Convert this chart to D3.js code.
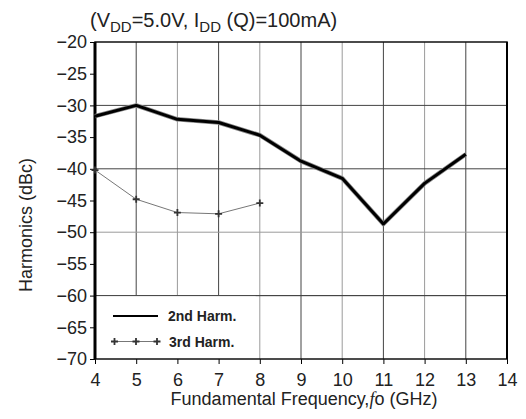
<!DOCTYPE html>
<html>
<head>
<meta charset="utf-8">
<script src="https://cdn.jsdelivr.net/npm/d3@7"></script>
<style>
  body { margin: 0; background: #fff; }
  text { font-family: "Liberation Sans", Arial, sans-serif; fill: #222; }
</style>
</head>
<body>
<div id="chart"></div>
<script>
const freqs = [4, 5, 6, 7, 8, 9, 10, 11, 12, 13]
const harm2 = [-31.7, -30, -32.2, -32.7, -34.7, -38.8, -41.5, -48.7, -42.3, -37.7]
const freqs3 = [4, 5, 6, 7, 8]
const harm3 = [-40.2, -44.8, -46.9, -47.1, -45.4]
const xTicks = [4, 5, 6, 7, 8, 9, 10, 11, 12, 13, 14]
const yTicks = [-20, -25, -30, -35, -40, -45, -50, -55, -60, -65, -70]
const yGrid = [-30, -40, -50, -60]

const margin = { top: 42, right: 19, bottom: 60, left: 95 }
const width = 526 - margin.left - margin.right
const height = 419 - margin.top - margin.bottom

const svg = d3.select("#chart")
              .append("svg")
              .attr("width", 526)
              .attr("height", 419)

const g = svg.append("g")
             .attr("transform", "translate(" + margin.left + "," + margin.top + ")")

const x = d3.scaleLinear().domain([4, 14]).range([0, width])
const y = d3.scaleLinear().domain([-70, -20]).range([height, 0])

// grid
g.selectAll(".vgrid")
 .data(xTicks.slice(1, -1))
 .enter().append("line")
 .attr("x1", d => x(d)).attr("x2", d => x(d))
 .attr("y1", 0).attr("y2", height)
 .attr("stroke", (d, i) => i % 2 ? "#9a9a9a" : "#444")
 .attr("stroke-width", 1)

g.selectAll(".hgrid")
 .data(yGrid)
 .enter().append("line")
 .attr("x1", 0).attr("x2", width)
 .attr("y1", d => y(d)).attr("y2", d => y(d))
 .attr("stroke", (d, i) => i == 2 ? "#9a9a9a" : "#444")
 .attr("stroke-width", 1)

// legend background covers grid
g.append("rect")
 .attr("x", 0).attr("y", y(-60))
 .attr("width", x(7.9) - x(4)).attr("height", height - y(-60))
 .attr("fill", "#fff")
g.append("line")
 .attr("x1", 0).attr("x2", width)
 .attr("y1", y(-60)).attr("y2", y(-60))
 .attr("stroke", "#444")

// axes
const xAxis = g.append("g")
               .attr("transform", "translate(0," + height + ")")
               .call(d3.axisBottom(x).tickValues(xTicks).tickSize(5).tickPadding(9))
xAxis.select(".domain").remove()
xAxis.selectAll("text").attr("font-size", 18).style("font-family", "'Liberation Sans', Arial, sans-serif")

const yAxis = g.append("g")
               .call(d3.axisLeft(y).tickValues(yTicks).tickSize(5).tickPadding(3)
                       .tickFormat(d => String(d).replace("-", "\u2212")))
yAxis.select(".domain").remove()
yAxis.selectAll("text").attr("font-size", 18).style("font-family", "'Liberation Sans', Arial, sans-serif")

// frame
g.append("rect")
 .attr("width", width).attr("height", height)
 .attr("fill", "none").attr("stroke", "#111").attr("stroke-width", 1.5)
g.append("line")
 .attr("x1", 0).attr("x2", 0).attr("y1", 0).attr("y2", height)
 .attr("stroke", "#000").attr("stroke-width", 3)
g.append("line")
 .attr("x1", width).attr("x2", width).attr("y1", 0).attr("y2", height)
 .attr("stroke", "#000").attr("stroke-width", 2)

const line = d3.line()
               .x(d => x(d[0]))
               .y(d => y(d[1]))

// 3rd harmonic
const d3rd = freqs3.map((f, i) => [f, harm3[i]])
g.append("path")
 .attr("d", line(d3rd))
 .attr("fill", "none").attr("stroke", "#777").attr("stroke-width", 1)

function plus(sel) {
  sel.append("path")
     .attr("d", "M-3.5,0H3.5M0,-3.5V3.5")
     .attr("stroke", "#333").attr("stroke-width", 1.8)
}
g.selectAll(".m3")
 .data(d3rd)
 .enter().append("g")
 .attr("transform", d => "translate(" + x(d[0]) + "," + y(d[1]) + ")")
 .call(plus)

// 2nd harmonic
const d2nd = freqs.map((f, i) => [f, harm2[i]])
g.append("path")
 .attr("d", line(d2nd))
 .attr("fill", "none").attr("stroke", "#888").attr("stroke-width", 4.5)
 .attr("stroke-linejoin", "round")
g.append("path")
 .attr("d", line(d2nd))
 .attr("fill", "none").attr("stroke", "#000").attr("stroke-width", 3)
 .attr("stroke-linejoin", "round")

// legend
const leg = svg.append("g")
leg.append("line")
   .attr("x1", 113).attr("x2", 158).attr("y1", 316).attr("y2", 316)
   .attr("stroke", "#000").attr("stroke-width", 2)
leg.append("text").attr("x", 168).attr("y", 321)
   .attr("font-size", 14).attr("font-weight", "bold").text("2nd Harm.")
leg.append("line")
   .attr("x1", 114).attr("x2", 157).attr("y1", 341.5).attr("y2", 341.5)
   .attr("stroke", "#777").attr("stroke-width", 1)
leg.selectAll(".lm")
   .data([114.5, 136, 157])
   .enter().append("g")
   .attr("transform", d => "translate(" + d + ",341.5)")
   .call(plus)
leg.append("text").attr("x", 169).attr("y", 346.5)
   .attr("font-size", 14).attr("font-weight", "bold").text("3rd Harm.")

// title
const title = svg.append("text")
                 .attr("x", 90).attr("y", 27)
                 .attr("font-size", 20)
title.append("tspan").text("(V")
title.append("tspan").attr("font-size", 15).attr("dy", 5).text("DD")
title.append("tspan").attr("dy", -5).text("=5.0V, I")
title.append("tspan").attr("font-size", 15).attr("dy", 5).text("DD")
title.append("tspan").attr("dy", -5).text(" (Q)=100mA)")

// axis labels
const xl = svg.append("text")
              .attr("x", 304).attr("y", 405)
              .attr("text-anchor", "middle").attr("font-size", 18)
xl.append("tspan").text("Fundamental Frequency,")
xl.append("tspan").attr("font-style", "italic").attr("font-family", "'Liberation Serif', serif").text("f")
xl.append("tspan").text("o (GHz)")

svg.append("text")
   .attr("transform", "translate(32,225) rotate(-90)")
   .attr("text-anchor", "middle").attr("font-size", 18)
   .text("Harmonics (dBc)")
</script>
</body>
</html>
